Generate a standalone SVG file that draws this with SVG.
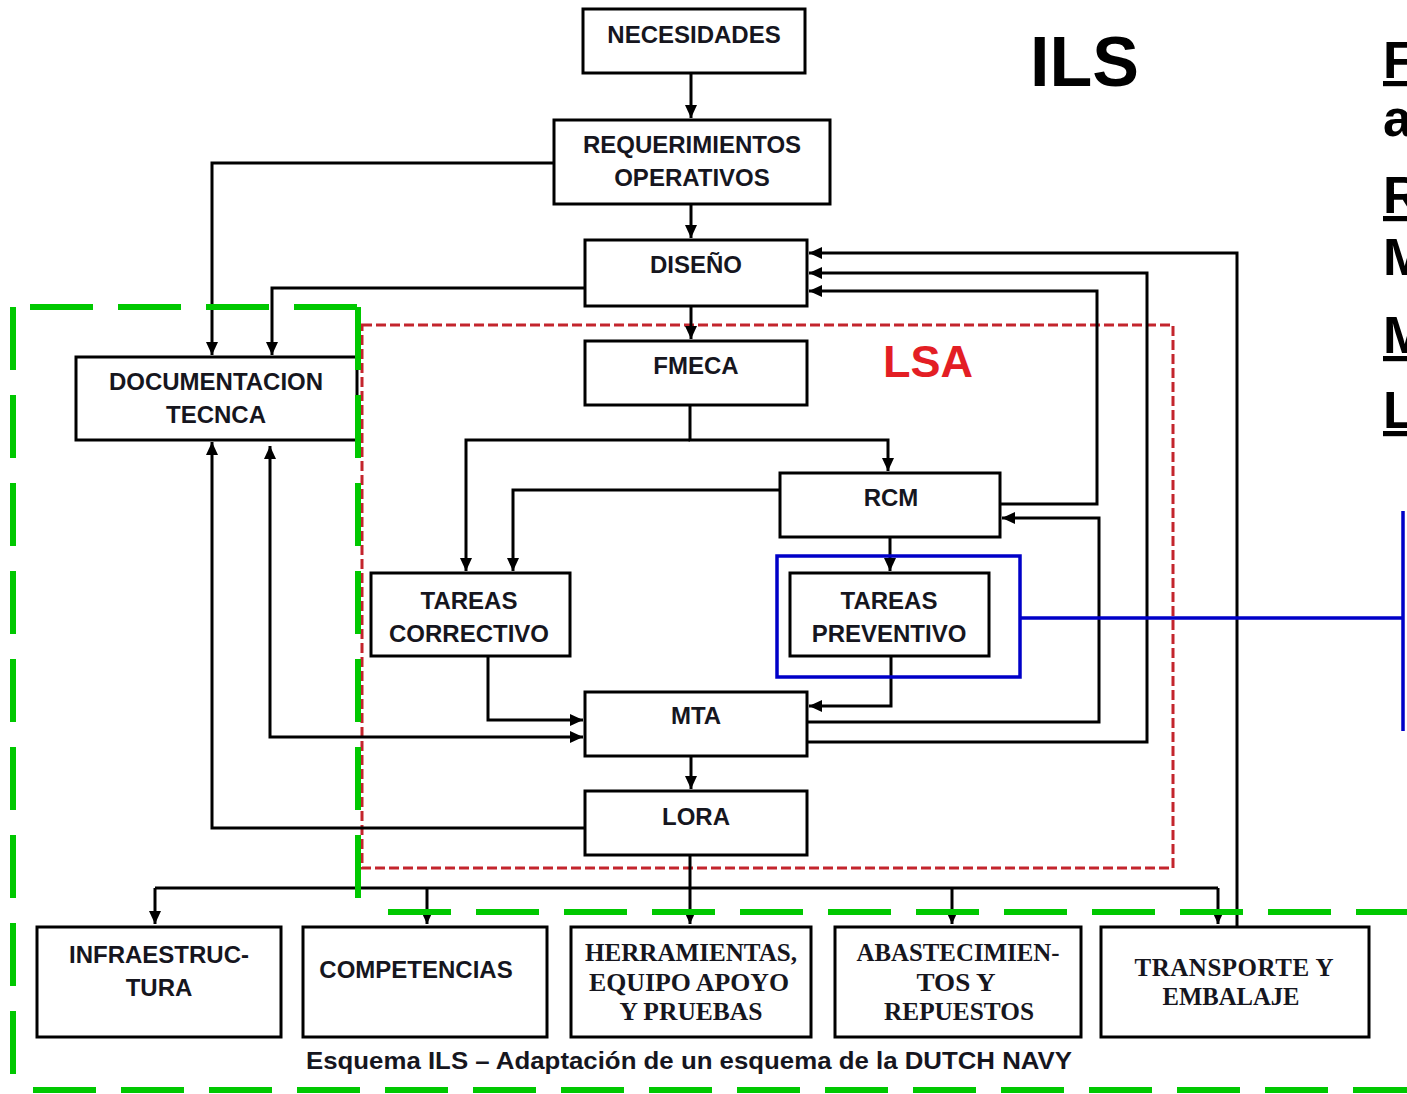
<svg xmlns="http://www.w3.org/2000/svg" width="1407" height="1094" viewBox="0 0 1407 1094">
  <style>
    .box { fill: #fff; stroke: #000; stroke-width: 3; }
    .lbl { font-family: "Liberation Sans", Arial, sans-serif; font-weight: bold; font-size: 24px; fill: #16161e; text-anchor: middle; }
    .ser { font-family: "Liberation Serif", "Times New Roman", serif; font-weight: bold; font-size: 25px; fill: #16161e; text-anchor: middle; }
    .wire { fill: none; stroke: #000; stroke-width: 3; }
    .side { font-family: "Liberation Sans", Arial, sans-serif; font-weight: bold; font-size: 52px; fill: #000; }
    .green { fill: none; stroke: #00c800; stroke-width: 6; stroke-dasharray: 63,25; }
  </style>
  <defs>
    <marker id="arr" markerUnits="userSpaceOnUse" markerWidth="14" markerHeight="14" refX="13" refY="7" orient="auto-start-reverse">
      <path d="M0,1 L13,7 L0,13 z" fill="#000"/>
    </marker>
  </defs>

  <rect width="1407" height="1094" fill="#fff"/>

  <!-- LSA boundary -->
  <g id="lsa-area">
    <rect x="362" y="325" width="811" height="543" fill="none" stroke="#c3252d" stroke-width="3" stroke-dasharray="10,4"/>
    <text x="928" y="377" text-anchor="middle" font-family="Liberation Sans, Arial, sans-serif" font-weight="bold" font-size="45" fill="#e31e24">LSA</text>
  </g>

  <!-- connectors -->
  <g id="connectors">
    <path class="wire" d="M691,73 V118" marker-end="url(#arr)"/>
    <path class="wire" d="M691,204 V238" marker-end="url(#arr)"/>
    <path class="wire" d="M554,163 H212 V355" marker-end="url(#arr)"/>
    <path class="wire" d="M585,288 H272 V355" marker-end="url(#arr)"/>
    <path class="wire" d="M691,306 V339" marker-end="url(#arr)"/>
    <path class="wire" d="M690,405 V440 H888 V471" marker-end="url(#arr)"/>
    <path class="wire" d="M690,440 H466 V571" marker-end="url(#arr)"/>
    <path class="wire" d="M780,490 H513 V571" marker-end="url(#arr)"/>
    <path class="wire" d="M1000,504 H1097 V291 H809" marker-end="url(#arr)"/>
    <path class="wire" d="M890,537 V571" marker-end="url(#arr)"/>
    <path class="wire" d="M891,656 V706 H809" marker-end="url(#arr)"/>
    <path class="wire" d="M807,722 H1099 V518 H1002" marker-end="url(#arr)"/>
    <path class="wire" d="M807,742 H1147 V273 H809" marker-end="url(#arr)"/>
    <path class="wire" d="M1237,927 V253 H809" marker-end="url(#arr)"/>
    <path class="wire" d="M488,656 V720 H583" marker-end="url(#arr)"/>
    <path class="wire" d="M270,446 V737 H583" marker-start="url(#arr)" marker-end="url(#arr)"/>
    <path class="wire" d="M585,828 H212 V442" marker-end="url(#arr)"/>
    <path class="wire" d="M691,756 V789" marker-end="url(#arr)"/>
    <path class="wire" d="M690,855 V924" marker-end="url(#arr)"/>
    <path class="wire" d="M155,888 H1218"/>
    <path class="wire" d="M155,888 V924" marker-end="url(#arr)"/>
    <path class="wire" d="M427,888 V924" marker-end="url(#arr)"/>
    <path class="wire" d="M952,888 V924" marker-end="url(#arr)"/>
    <path class="wire" d="M1218,888 V924" marker-end="url(#arr)"/>
  </g>

  <!-- process nodes -->
  <g id="necesidades">
    <rect class="box" x="583" y="9" width="222" height="64"/>
    <text class="lbl" x="694" y="43">NECESIDADES</text>
  </g>
  <g id="requerimientos">
    <rect class="box" x="554" y="120" width="276" height="84"/>
    <text class="lbl" x="692" y="153">REQUERIMIENTOS</text>
    <text class="lbl" x="692" y="186">OPERATIVOS</text>
  </g>
  <g id="diseno">
    <rect class="box" x="585" y="240" width="222" height="66"/>
    <text class="lbl" x="696" y="273">DISEÑO</text>
  </g>
  <g id="fmeca">
    <rect class="box" x="585" y="341" width="222" height="64"/>
    <text class="lbl" x="696" y="374">FMECA</text>
  </g>
  <g id="documentacion">
    <rect class="box" x="76" y="357" width="281" height="83"/>
    <text class="lbl" x="216" y="390">DOCUMENTACION</text>
    <text class="lbl" x="216" y="423">TECNCA</text>
  </g>
  <g id="rcm">
    <rect class="box" x="780" y="473" width="220" height="64"/>
    <text class="lbl" x="891" y="506">RCM</text>
  </g>
  <g id="tareas-correctivo">
    <rect class="box" x="371" y="573" width="199" height="83"/>
    <text class="lbl" x="469" y="609">TAREAS</text>
    <text class="lbl" x="469" y="642">CORRECTIVO</text>
  </g>
  <g id="tareas-preventivo">
    <rect class="box" x="790" y="573" width="199" height="83"/>
    <text class="lbl" x="889" y="609">TAREAS</text>
    <text class="lbl" x="889" y="642">PREVENTIVO</text>
  </g>
  <g id="mta">
    <rect class="box" x="585" y="692" width="222" height="64"/>
    <text class="lbl" x="696" y="724">MTA</text>
  </g>
  <g id="lora">
    <rect class="box" x="585" y="791" width="222" height="64"/>
    <text class="lbl" x="696" y="825">LORA</text>
  </g>

  <!-- support elements -->
  <g id="infraestructura">
    <rect class="box" x="37" y="927" width="244" height="110"/>
    <text class="lbl" x="159" y="963">INFRAESTRUC-</text>
    <text class="lbl" x="159" y="996">TURA</text>
  </g>
  <g id="competencias">
    <rect class="box" x="303" y="927" width="244" height="110"/>
    <text class="lbl" x="416" y="978">COMPETENCIAS</text>
  </g>
  <g id="herramientas">
    <rect class="box" x="571" y="927" width="240" height="110"/>
    <text class="ser" x="691" y="961" textLength="212" lengthAdjust="spacingAndGlyphs">HERRAMIENTAS,</text>
    <text class="ser" x="689" y="991" textLength="200" lengthAdjust="spacingAndGlyphs">EQUIPO APOYO</text>
    <text class="ser" x="691" y="1020" textLength="143" lengthAdjust="spacingAndGlyphs">Y PRUEBAS</text>
  </g>
  <g id="abastecimientos">
    <rect class="box" x="835" y="927" width="246" height="110"/>
    <text class="ser" x="958" y="961" textLength="203" lengthAdjust="spacingAndGlyphs">ABASTECIMIEN-</text>
    <text class="ser" x="956" y="991" textLength="79" lengthAdjust="spacingAndGlyphs">TOS Y</text>
    <text class="ser" x="959" y="1020" textLength="150" lengthAdjust="spacingAndGlyphs">REPUESTOS</text>
  </g>
  <g id="transporte">
    <rect class="box" x="1101" y="927" width="268" height="110"/>
    <text class="ser" x="1234" y="976" textLength="199" lengthAdjust="spacing">TRANSPORTE   Y</text>
    <text class="ser" x="1231" y="1005" textLength="137" lengthAdjust="spacingAndGlyphs">EMBALAJE</text>
  </g>

  <!-- highlight of preventive tasks -->
  <g id="highlight" fill="none" stroke="#0000c8" stroke-width="3.5">
    <rect x="777" y="556" width="243" height="121"/>
    <path d="M1020,618 H1403 M1403,511 V731"/>
  </g>

  <!-- logistics support boundary -->
  <g id="ils-area">
    <path class="green" d="M30,307 H358"/>
    <path class="green" d="M13,307 V1090"/>
    <path class="green" d="M358,307 V912"/>
    <path class="green" d="M33,1090 H1420"/>
    <path class="green" d="M388,912 H1420"/>
  </g>

  <text x="306" y="1069" font-family="Liberation Sans, Arial, sans-serif" font-weight="bold" font-size="24" fill="#16161e" textLength="766" lengthAdjust="spacingAndGlyphs">Esquema ILS – Adaptación de un esquema de la DUTCH NAVY</text>

  <!-- title -->
  <text x="1030" y="86" font-family="Liberation Sans, Arial, sans-serif" font-weight="bold" font-size="70" fill="#000">ILS</text>

  <!-- side list -->
  <g id="side-list">
    <text class="side" x="1383" y="78" text-decoration="underline">F</text>
    <text class="side" x="1383" y="136">a</text>
    <text class="side" x="1383" y="213" text-decoration="underline">R</text>
    <text class="side" x="1383" y="275">M</text>
    <text class="side" x="1383" y="353" text-decoration="underline">M</text>
    <text class="side" x="1383" y="428" text-decoration="underline">L</text>
  </g>
</svg>
